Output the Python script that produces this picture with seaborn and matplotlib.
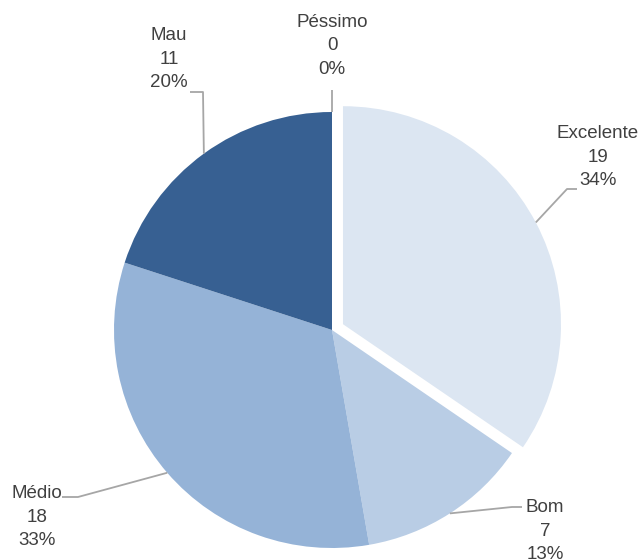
import numpy as np
import matplotlib
matplotlib.use('Agg')
import matplotlib.pyplot as plt
import seaborn as sns

sns.set_style('white')
plt.rcParams['font.family'] = ['Liberation Sans', 'DejaVu Sans']

categorias = ['Excelente', 'Bom', 'Médio', 'Mau', 'Péssimo']
valores = [19, 7, 18, 11, 0]
percentagens = [34, 13, 33, 20, 0]
cores = ['#DCE6F2', '#B9CDE5', '#95B3D7', '#376092', '#254061']
destaque = [0.057, 0, 0, 0, 0]

# label layout in pixel space (x, y from top): text centre, leader elbow, leader end
texto_pos = {'Excelente': (598, 157), 'Bom': (545, 531), 'Médio': (37, 517),
             'Mau': (169, 59), 'Péssimo': (332, 46)}
cotovelo = {'Excelente': (567, 189), 'Bom': (512, 507), 'Médio': (78, 497),
            'Mau': (203, 92), 'Péssimo': (332, 90)}
fim = {'Excelente': (577, 189), 'Bom': (522, 507), 'Médio': (62, 497),
       'Mau': (190, 92), 'Péssimo': (332, 90)}

W, H = 639, 560
cx, cy, raio = 332, H - 330, 218

fig = plt.figure(figsize=(W / 100, H / 100), dpi=100)
ax = fig.add_axes([0, 0, 1, 1])

total = sum(valores)
# matplotlib's explode offset is in data units, so scale it by the radius
fatias, _ = ax.pie(valores, colors=cores, explode=[e * raio for e in destaque],
                   startangle=90, counterclock=False, radius=raio,
                   center=(cx, cy), wedgeprops=dict(linewidth=0))

angulo = 90.0
for nome, v, p, ex in zip(categorias, valores, percentagens, destaque):
    frac = v / total
    meio = np.deg2rad(angulo - frac * 360 / 2)
    angulo -= frac * 360
    r = raio * (1 + ex)
    ax_, ay_ = cx + r * np.cos(meio), cy + r * np.sin(meio)
    ex_, ey_ = cotovelo[nome]
    fx, fy = fim[nome]
    ax.plot([ax_, ex_, fx], [ay_, H - ey_, H - fy], color='#A6A6A6', lw=1.3,
            solid_capstyle='butt')
    tx, ty = texto_pos[nome]
    ax.text(tx, H - ty, f'{nome}\n{v}\n{p}%', ha='center', va='center',
            fontsize=13.5, color='#404040', linespacing=1.5)

ax.set_xlim(0, W)
ax.set_ylim(0, H)
ax.set_aspect('equal')
ax.axis('off')

fig.savefig('out.png', dpi=100)
